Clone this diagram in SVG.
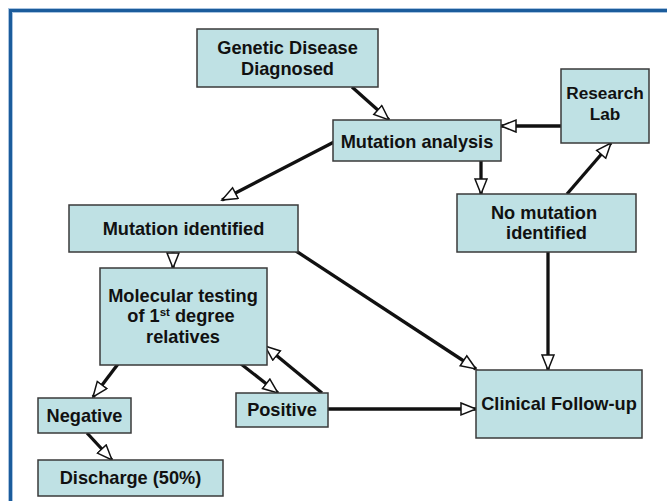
<svg xmlns="http://www.w3.org/2000/svg" width="667" height="501" viewBox="0 0 667 501">
<style>
.box{fill:#bfe1e4;stroke:#3a3a3a;stroke-width:1.5}
.t{font-family:"Liberation Sans",Arial,sans-serif;font-weight:bold;font-size:18.2px;fill:#111;text-anchor:middle}
.s{font-size:17.2px}
.c{fill:none;stroke:#111;stroke-width:3.3;marker-end:url(#ah)}
</style>
<defs>
<marker id="ah" markerUnits="userSpaceOnUse" markerWidth="20" markerHeight="16" refX="16" refY="7" orient="auto">
<path d="M1,1 L16,7 L1,13 Z" fill="#fff" stroke="#111" stroke-width="1.5"/>
</marker>
</defs>
<rect width="667" height="501" fill="#fff"/>
<path d="M10.5,501 V10.5 H667" fill="none" stroke="#a9c4e0" stroke-width="5"/>
<path d="M10.5,501 V10.5 H667" fill="none" stroke="#1b5c9c" stroke-width="3"/>
<g id="connectors">
<path class="c" d="M352,87 L389,120"/>
<path class="c" d="M334,142 L222,200"/>
<path class="c" d="M481,161 L481,194"/>
<path class="c" d="M561,126 L501,126"/>
<path class="c" d="M567,194 L611,143"/>
<path class="c" d="M173,252 L173,268"/>
<path class="c" d="M296,251 L476,369"/>
<path class="c" d="M548,252 L548,370"/>
<path class="c" d="M118,364 L93,397"/>
<path class="c" d="M241,364 L278,393"/>
<path class="c" d="M322,393 L265,346"/>
<path class="c" d="M328,409 L476,409"/>
<path class="c" d="M87,433 L112,460"/>
</g>
<g id="genetic"><rect class="box" x="197" y="29" width="181" height="58"/><text class="t" x="287.5" y="54">Genetic Disease</text><text class="t" x="287.5" y="75">Diagnosed</text></g>
<g id="mutation-analysis"><rect class="box" x="333" y="120" width="168" height="41"/><text class="t" x="417" y="148">Mutation analysis</text></g>
<g id="research-lab"><rect class="box" x="561" y="69" width="88" height="74"/><text class="t s" x="605" y="99">Research</text><text class="t s" x="605" y="120">Lab</text></g>
<g id="no-mutation"><rect class="box" x="457" y="194" width="179" height="58"/><text class="t" x="544" y="219">No mutation</text><text class="t" x="546.5" y="239">identified</text></g>
<g id="mutation-identified"><rect class="box" x="69" y="205" width="229" height="47"/><text class="t" x="183.5" y="235">Mutation identified</text></g>
<g id="molecular"><rect class="box" x="100" y="268" width="167" height="97"/><text class="t" x="183" y="302">Molecular testing</text><text class="t" x="181" y="322">of 1<tspan font-size="11.5" dy="-6">st</tspan><tspan dy="6"> degree</tspan></text><text class="t" x="183" y="343">relatives</text></g>
<g id="clinical"><rect class="box" x="476" y="370" width="166" height="68"/><text class="t" x="559" y="410">Clinical Follow-up</text></g>
<g id="positive"><rect class="box" x="236" y="393" width="92" height="34"/><text class="t" x="282" y="416">Positive</text></g>
<g id="negative"><rect class="box" x="38" y="398" width="93" height="35"/><text class="t" x="84.5" y="422">Negative</text></g>
<g id="discharge"><rect class="box" x="38" y="460" width="185" height="36"/><text class="t" x="130.5" y="484">Discharge (50%)</text></g>
</svg>
